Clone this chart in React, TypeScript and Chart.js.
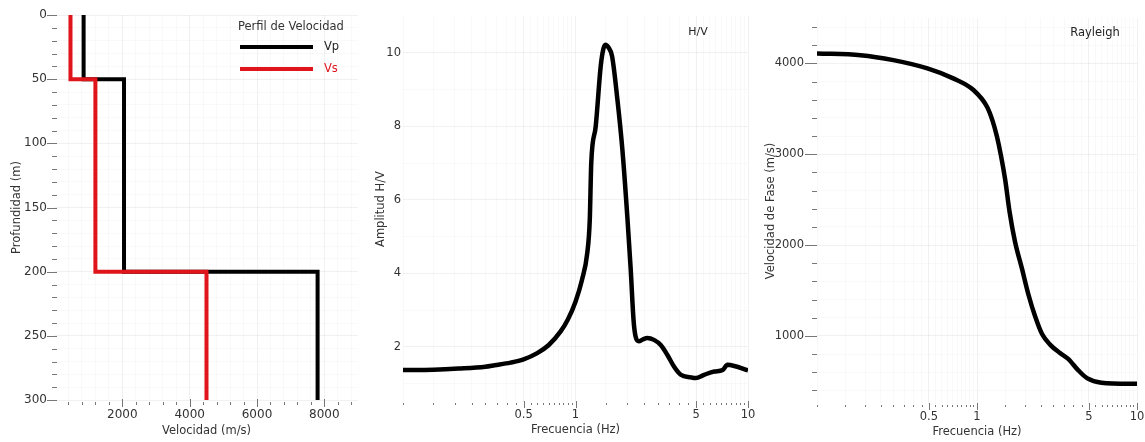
import React, { useEffect, useRef } from 'react';
import { Chart, registerables } from 'chart.js';

Chart.register(...registerables);
Chart.defaults.font.family = '"DejaVu Sans", Verdana, sans-serif';

// ---------------- Data ----------------
// Velocity profile (step profile)
const profileDepth = [0, 50, 50, 200, 200, 300];
const vpProfile = [850, 850, 2050, 2050, 7800, 7800];
const vsProfile = [460, 460, 1200, 1200, 4500, 4500];

// H/V spectral ratio
const hvFreq = [0.1, 0.15, 0.21, 0.3, 0.34, 0.42, 0.5, 0.6, 0.7, 0.82, 0.9, 1.0, 1.09, 1.17, 1.21, 1.234, 1.31, 1.4, 1.45, 1.49, 1.55, 1.63, 1.75, 1.87, 2.0, 2.09, 2.17, 2.23, 2.33, 2.45, 2.61, 2.85, 3.12, 3.41, 3.73, 4.08, 4.66, 4.98, 5.57, 6.38, 7.13, 7.6, 8.33, 10];
const hvAmp = [1.37, 1.38, 1.41, 1.46, 1.5, 1.57, 1.66, 1.83, 2.05, 2.42, 2.73, 3.23, 3.82, 4.55, 5.46, 7.0, 8.0, 9.63, 10.1, 10.22, 10.15, 9.9, 8.72, 7.36, 5.5, 4.1, 2.73, 2.28, 2.15, 2.2, 2.24, 2.19, 2.05, 1.78, 1.46, 1.24, 1.17, 1.15, 1.24, 1.33, 1.37, 1.51, 1.48, 1.36];

// Rayleigh dispersion curve
const rayFreq = [0.1, 0.187, 0.3, 0.49, 0.71, 0.95, 1.155, 1.25, 1.33, 1.41, 1.5, 1.6, 1.727, 1.91, 2.1, 2.31, 2.55, 2.87, 3.31, 3.7, 4.3, 4.87, 6.0, 10];
const rayVel = [4110, 4091, 4036, 3945, 3835, 3707, 3523, 3370, 3200, 2990, 2720, 2360, 2040, 1740, 1450, 1213, 1020, 901, 810, 750, 620, 535, 485, 472];

// Tick labels
const velLabels = [2000, 4000, 6000, 8000];
const depthLabels = [0, 50, 100, 150, 200, 250, 300];
const hvAmpLabels = [2, 4, 6, 8, 10];
const freqLabels = [0.5, 1, 5, 10];
const rayVelLabels = [1000, 2000, 3000, 4000];

// Minor tick positions
const range = (a: number, b: number, s: number) => {
  const out: number[] = [];
  for (let v = a; v <= b + 1e-9; v += s) out.push(Math.round(v * 1000) / 1000);
  return out;
};
const velTicks = range(400, 8800, 400);
const depthTicks = range(0, 300, 10);
const hvAmpTicks = range(1, 10, 1);
const freqTicks = [...range(0.1, 0.95, 0.05), ...range(1, 10, 0.5)];
const rayVelTicks = range(400, 4400, 200);

const TXT = '#333';
const RED = '#e0141b';

const near = (arr: number[], v: number) => arr.some((a) => Math.abs(a - v) < 1e-6);

const tickMarks = {
  id: 'tickMarks',
  afterDraw(chart: any, _a: any, opts: any) {
    const ctx = chart.ctx;
    const ca = chart.chartArea;
    for (const m of opts.marks || []) {
      const sc = chart.scales[m.axis];
      ctx.save();
      ctx.strokeStyle = m.color || '#777';
      ctx.lineWidth = 1;
      for (const v of m.values) {
        const p = Math.round(sc.getPixelForValue(v)) + 0.5;
        const major = near(m.major, v);
        const [s, e] = major ? m.majorSpan : m.minorSpan;
        ctx.beginPath();
        if (sc.isHorizontal()) {
          ctx.moveTo(p, ca.bottom + s);
          ctx.lineTo(p, ca.bottom + e);
        } else {
          ctx.moveTo(ca.left - s, p);
          ctx.lineTo(ca.left - e, p);
        }
        ctx.stroke();
      }
      ctx.restore();
    }
  },
};

const annotations = {
  id: 'annots',
  afterDraw(chart: any, _a: any, opts: any) {
    const ctx = chart.ctx;
    ctx.save();
    for (const l of opts.lines || []) {
      ctx.strokeStyle = l.color;
      ctx.lineWidth = l.width;
      ctx.beginPath();
      ctx.moveTo(l.x1, l.y);
      ctx.lineTo(l.x2, l.y);
      ctx.stroke();
    }
    for (const t of opts.texts || []) {
      ctx.fillStyle = t.color;
      ctx.font = `${t.size}px "DejaVu Sans", Verdana, sans-serif`;
      ctx.textAlign = t.align || 'left';
      ctx.textBaseline = 'middle';
      ctx.fillText(t.text, t.x, t.y);
    }
    ctx.restore();
  },
};

const gridColor = (majors: number[]) => (c: any) =>
  c.tick && near(majors, c.tick.value) ? 'rgba(0,0,0,0.055)' : 'rgba(0,0,0,0.025)';

function makeAxis(o: any) {
  return {
    type: o.type || 'linear',
    position: o.position,
    min: o.min,
    max: o.max,
    reverse: !!o.reverse,
    afterBuildTicks: (s: any) => {
      s.ticks = o.ticks.map((v: number) => ({ value: v }));
    },
    afterFit: (s: any) => {
      if (o.position === 'bottom') s.height = o.size;
      else s.width = o.size;
      s.paddingLeft = 0;
      s.paddingRight = 0;
      s.paddingTop = 0;
      s.paddingBottom = 0;
    },
    border: { display: false },
    grid: { drawTicks: false, color: gridColor(o.labels), lineWidth: 1 },
    ticks: {
      autoSkip: false,
      maxRotation: 0,
      minRotation: 0,
      padding: o.tickPad,
      color: TXT,
      font: { size: o.tickSize },
      callback: (v: any) => (near(o.labels, Number(v)) ? String(Number(v)) : ''),
    },
    title: {
      display: true,
      text: o.title,
      color: TXT,
      font: { size: 11.5 },
      padding: o.position === 'bottom' ? { top: 0, bottom: o.titlePad } : { top: o.titlePad, bottom: 0 },
    },
  };
}

function useChart(ref: React.RefObject<HTMLCanvasElement>, build: () => any) {
  useEffect(() => {
    const c = new Chart(ref.current as HTMLCanvasElement, build());
    return () => c.destroy();
  }, []);
}

const baseOpts = {
  responsive: false,
  animation: false,
  maintainAspectRatio: false,
};

export default function App() {
  const r1 = useRef<HTMLCanvasElement>(null);
  const r2 = useRef<HTMLCanvasElement>(null);
  const r3 = useRef<HTMLCanvasElement>(null);

  useChart(r1, () => ({
    type: 'line',
    data: {
      datasets: [
        {
          label: 'Vs',
          data: profileDepth.map((d, i) => ({ x: vsProfile[i], y: d })),
          borderColor: RED,
          borderWidth: 4,
          pointRadius: 0,
          tension: 0,
          order: 0,
        },
        {
          label: 'Vp',
          data: profileDepth.map((d, i) => ({ x: vpProfile[i], y: d })),
          borderColor: '#000',
          borderWidth: 4,
          pointRadius: 0,
          tension: 0,
          order: 1,
        },
      ],
    },
    options: {
      ...baseOpts,
      layout: { padding: { left: 0, right: 12, top: 15, bottom: 0 } },
      plugins: {
        legend: { display: false },
        tooltip: { enabled: false },
        tickMarks: {
          marks: [
            { axis: 'x', values: velTicks, major: velLabels, majorSpan: [-1, 7], minorSpan: [2, 5] },
            { axis: 'y', values: depthTicks, major: depthLabels, majorSpan: [-2, 8], minorSpan: [-2, 3] },
          ],
        },
        annots: {
          lines: [
            { x1: 240, x2: 313, y: 47, color: '#000', width: 4 },
            { x1: 240, x2: 313, y: 69, color: RED, width: 4 },
          ],
          texts: [
            { text: 'Perfil de Velocidad', x: 238, y: 27, color: '#333', size: 11.5 },
            { text: 'Vp', x: 324, y: 47, color: '#222', size: 11.5 },
            { text: 'Vs', x: 324, y: 69, color: RED, size: 11.5 },
          ],
        },
      },
      scales: {
        x: makeAxis({ position: 'bottom', min: 0, max: 9000, ticks: velTicks, labels: velLabels, size: 42, tickPad: 8, tickSize: 12, title: 'Velocidad (m/s)', titlePad: 4 }),
        y: makeAxis({ position: 'left', min: 0, max: 300, reverse: true, ticks: depthTicks, labels: depthLabels, size: 55, tickPad: 8, tickSize: 12, title: 'Profundidad (m)', titlePad: 10 }),
      },
    },
    plugins: [tickMarks, annotations],
  }));

  useChart(r2, () => ({
    type: 'line',
    data: {
      datasets: [
        {
          label: 'H/V',
          data: hvFreq.map((f, i) => ({ x: f, y: hvAmp[i] })),
          borderColor: '#000',
          borderWidth: 4.5,
          pointRadius: 0,
          cubicInterpolationMode: 'monotone',
        },
      ],
    },
    options: {
      ...baseOpts,
      layout: { padding: { left: 0, right: 12, top: 16, bottom: 0 } },
      plugins: {
        legend: { display: false },
        tooltip: { enabled: false },
        tickMarks: {
          marks: [{ axis: 'x', values: freqTicks, major: [0.5, 1, 5, 10], majorSpan: [-1, 6], minorSpan: [1, 3] }],
        },
        annots: { texts: [{ text: 'H/V', x: 328, y: 32, color: '#222', size: 11, align: 'center' }] },
      },
      scales: {
        x: makeAxis({ type: 'logarithmic', position: 'bottom', min: 0.1, max: 10, ticks: freqTicks, labels: freqLabels, size: 40, tickPad: 6, tickSize: 11.5, title: 'Frecuencia (Hz)', titlePad: 5 }),
        y: makeAxis({ position: 'left', min: 0.5, max: 11, ticks: hvAmpTicks, labels: hvAmpLabels, size: 33, tickPad: 2, tickSize: 11.5, title: 'Amplitud H/V', titlePad: 4 }),
      },
    },
    plugins: [tickMarks, annotations],
  }));

  useChart(r3, () => ({
    type: 'line',
    data: {
      datasets: [
        {
          label: 'Rayleigh',
          data: rayFreq.map((f, i) => ({ x: f, y: rayVel[i] })),
          borderColor: '#000',
          borderWidth: 4.5,
          pointRadius: 0,
          cubicInterpolationMode: 'monotone',
        },
      ],
    },
    options: {
      ...baseOpts,
      layout: { padding: { left: 0, right: 8, top: 18, bottom: 0 } },
      plugins: {
        legend: { display: false },
        tooltip: { enabled: false },
        tickMarks: {
          marks: [
            { axis: 'x', values: freqTicks, major: [0.5, 1, 5, 10], majorSpan: [-1, 6], minorSpan: [1, 3] },
            { axis: 'y', values: rayVelTicks, major: rayVelLabels, majorSpan: [0, 12], minorSpan: [0, 5] },
          ],
        },
        annots: { texts: [{ text: 'Rayleigh', x: 335, y: 33, color: '#222', size: 11.5, align: 'center' }] },
      },
      scales: {
        x: makeAxis({ type: 'logarithmic', position: 'bottom', min: 0.1, max: 10, ticks: freqTicks, labels: freqLabels, size: 38, tickPad: 6, tickSize: 11.5, title: 'Frecuencia (Hz)', titlePad: 3 }),
        y: makeAxis({ position: 'left', min: 250, max: 4500, ticks: rayVelTicks, labels: rayVelLabels, size: 57, tickPad: 13, tickSize: 11.5, title: 'Velocidad de Fase (m/s)', titlePad: 4 }),
      },
    },
    plugins: [tickMarks, annotations],
  }));

  const cv = (left: number, width: number): React.CSSProperties => ({
    position: 'absolute',
    left,
    top: 0,
    width,
    height: 442,
  });

  return (
    <div style={{ position: 'absolute', left: 0, top: 0, width: 1145, height: 442, background: '#fff', overflow: 'hidden' }}>
      <canvas ref={r1} width={370} height={442} style={cv(0, 370)} />
      <canvas ref={r2} width={390} height={442} style={cv(370, 390)} />
      <canvas ref={r3} width={385} height={442} style={cv(760, 385)} />
    </div>
  );
}
